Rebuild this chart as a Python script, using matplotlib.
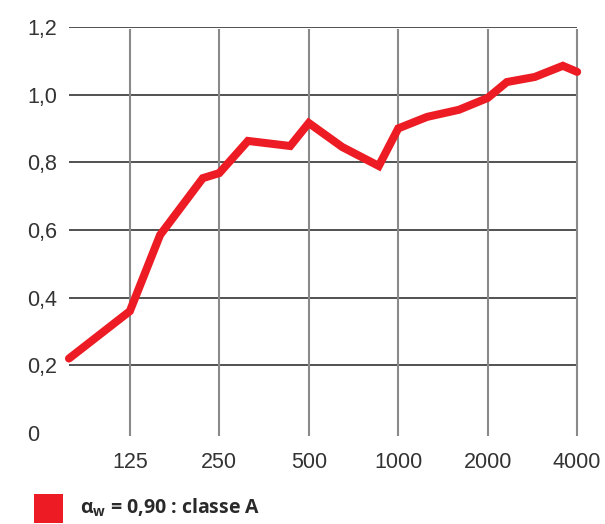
import matplotlib.pyplot as plt
from matplotlib.patches import Rectangle

# Sound absorption coefficient vs frequency
freqs = [78, 125, 158, 220, 250, 312, 433, 500, 648, 860, 1000, 1250, 1600,
         2000, 2320, 2880, 3580, 4000]
alpha = [0.22, 0.36, 0.585, 0.753, 0.768, 0.863, 0.848, 0.916, 0.845, 0.789,
         0.90, 0.934, 0.955, 0.99, 1.037, 1.052, 1.085, 1.067]

xticks = [125, 250, 500, 1000, 2000, 4000]
xtick_labels = ['125', '250', '500', '1000', '2000', '4000']
yticks = [0, 0.2, 0.4, 0.6, 0.8, 1.0, 1.2]
ytick_labels = ['0', '0,2', '0,4', '0,6', '0,8', '1,0', '1,2']

red = '#ED1C24'
plt.rcParams['font.family'] = ['Liberation Sans Narrow', 'Liberation Sans', 'DejaVu Sans']

fig = plt.figure(figsize=(6.05, 5.24), dpi=100)
ax = fig.add_axes([0.114, 0.1737, 0.840, 0.775])

ax.set_xscale('log')
ax.set_xlim(freqs[0], 4000)
ax.set_ylim(0, 1.2)

# grid
ax.hlines(yticks[1:], freqs[0], 4000, colors='#333333', linewidth=1.2, zorder=1)
ax.vlines(xticks, -0.01, 1.195, colors='#8a8a8a', linewidth=1.5, zorder=1, clip_on=False)

ax.plot(freqs, alpha, color=red, linewidth=5.8, solid_capstyle='round',
        solid_joinstyle='miter', clip_on=False, zorder=3)

ax.set_xticks(xticks)
ax.set_xticklabels(xtick_labels)
ax.xaxis.set_minor_locator(plt.NullLocator())
ax.set_yticks(yticks)
ax.set_yticklabels(ytick_labels)
ax.tick_params(axis='both', length=0, labelsize=15.5, labelcolor='#333333')
ax.tick_params(axis='x', pad=14)
ax.tick_params(axis='y', pad=30)
for lbl in ax.get_yticklabels():
    lbl.set_horizontalalignment('left')

for s in ax.spines.values():
    s.set_visible(False)

# legend
fig.patches.append(Rectangle((0.056, 0.002), 0.048, 0.055, transform=fig.transFigure,
                             facecolor=red, edgecolor='none'))
plt.rcParams['mathtext.fontset'] = 'custom'
plt.rcParams['mathtext.bf'] = 'Open Sans:bold'
fig.text(0.132, 0.031, r'$\mathbf{α_{w}}$ = 0,90 : classe A', fontsize=14,
         fontweight='bold', color='#2a2a2a', va='center', ha='left',
         family=['Open Sans', 'DejaVu Sans'])

plt.savefig('out.png', dpi=100)
